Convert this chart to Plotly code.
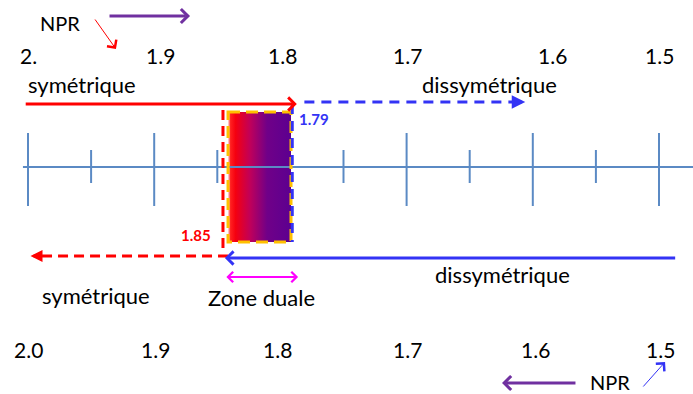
import plotly.graph_objects as go

# ---- data ----
major_ticks = [2.0, 1.9, 1.7, 1.6, 1.5]
minor_ticks = [1.95, 1.85, 1.75, 1.65, 1.55]
top_labels = ["2.", "1.9", "1.8", "1.7", "1.6", "1.5"]
top_label_pos = [2.0, 1.895, 1.798, 1.699, 1.584, 1.5]
bottom_labels = ["2.0", "1.9", "1.8", "1.7", "1.6", "1.5"]
bottom_label_pos = [2.0, 1.899, 1.802, 1.699, 1.598, 1.499]
sym_limit = 1.85          # red dashed limit
dis_limit = 1.79          # blue dashed limit
zone_duale = [1.8415, 1.7916]   # drawn box extent
sym_range = [2.003, 1.787]       # symétrique arrow (top)
dis_range_top = [1.781, 1.606]   # dissymétrique dashed arrow (top)
sym_range_bot = [1.8455, 1.998]  # symétrique dashed arrow (bottom)
dis_range_bot = [1.486, 1.844]   # dissymétrique arrow (bottom)

FONT = "Lato, 'Open Sans', sans-serif"
RED = "#ff0000"
BLUE = "#3333f5"
PURPLE = "#7030a0"
AXIS = "#5b8ac4"

fig = go.Figure()

# number line
fig.add_shape(type="line", x0=2.004, x1=1.47306, y0=167, y1=167,
              line=dict(color=AXIS, width=2))
for v in major_ticks:
    fig.add_shape(type="line", x0=v, x1=v, y0=133, y1=206, line=dict(color=AXIS, width=2))
for v in minor_ticks:
    fig.add_shape(type="line", x0=v, x1=v, y0=150, y1=183, line=dict(color=AXIS, width=2))

# gradient box (zone duale)
x0, x1 = zone_duale
fig.add_trace(go.Scatter(
    x=[x0, x1, x1, x0, x0], y=[112, 112, 242, 242, 112],
    mode="lines", fill="toself", line=dict(width=0),
    fillgradient=dict(type="horizontal",
                      colorscale=[[0, "#ffe0e0"], [0.04, "#ff2020"], [0.12, "#f50010"],
                                  [0.35, "#c0005a"], [0.62, "#700088"], [1, "#5c0090"]]),
    hoverinfo="skip", showlegend=False))
# orange dashed border
fig.add_shape(type="rect", x0=x0, x1=x1, y0=112, y1=242,
              line=dict(color="#ffc000", width=3, dash="12px,6px"))

# red dashed vertical + dashed arrow to the left
fig.add_shape(type="line", x0=sym_range_bot[0], x1=sym_range_bot[0], y0=110, y1=252,
              line=dict(color=RED, width=3, dash="10px,6px"))
fig.add_shape(type="line", x0=sym_range_bot[0] - 0.004, x1=sym_range_bot[1] - 0.004, y0=256, y1=256,
              line=dict(color=RED, width=3, dash="10px,6px"))
fig.add_annotation(x=sym_range_bot[1], y=256, ax=sym_range_bot[1] - 0.006, ay=256,
                   axref="x", ayref="y", xref="x", yref="y", text="", showarrow=True,
                   arrowhead=2, arrowsize=0.8, arrowwidth=3, arrowcolor=RED, standoff=0)

# blue dashed vertical + dashed arrow to the right
fig.add_shape(type="line", x0=zone_duale[1] - 0.001, x1=zone_duale[1] - 0.001, y0=104, y1=242,
              line=dict(color=BLUE, width=3, dash="10px,7px"))
fig.add_shape(type="line", x0=dis_range_top[0], x1=dis_range_top[1] + 0.004, y0=102, y1=102,
              line=dict(color=BLUE, width=3, dash="10px,7px"))
fig.add_annotation(x=dis_range_top[1], y=102, ax=dis_range_top[1] + 0.006, ay=102,
                   axref="x", ayref="y", xref="x", yref="y", text="", showarrow=True,
                   arrowhead=2, arrowsize=0.9, arrowwidth=3, arrowcolor=BLUE, standoff=0)

# solid arrows
def arrow(xh, yh, xt, yt, color, width, head=4, size=1.0, side="end"):
    fig.add_annotation(x=xh, y=yh, ax=xt, ay=yt, axref="x", ayref="y", xref="x", yref="y",
                       text="", showarrow=True, arrowhead=head, arrowsize=size,
                       arrowwidth=width, arrowcolor=color, standoff=0, startstandoff=0,
                       arrowside=side, startarrowhead=head, startarrowsize=size)

arrow(sym_range[1], 104, sym_range[0], 104, RED, 3, size=0.85)
arrow(dis_range_bot[1], 258, dis_range_bot[0], 258, BLUE, 3, size=0.85)
arrow(1.786, 277, 1.844, 277, "#ff00ff", 2, head=4, size=1.0, side="end+start")
arrow(1.8716, 16, 1.9366, 16, PURPLE, 3, size=0.9)
arrow(1.6244, 383, 1.565, 383, PURPLE, 3, size=0.9)
arrow(1.9303, 49, 1.9477, 18, RED, 1, size=2.2)
arrow(1.4952, 362, 1.5135, 388, BLUE, 1, size=2.2)

def text(x, y, s, size=22, color="black", bold=False):
    fig.add_annotation(x=x, y=y, xref="x", yref="y", text=f"<b>{s}</b>" if bold else s,
                       showarrow=False, font=dict(family=FONT, size=size, color=color))

for v, s in zip(top_label_pos, top_labels):
    text(v, 55, s, size=21)
for v, s in zip(bottom_label_pos, bottom_labels):
    text(v, 349, s, size=21)

text(1.957, 84, "symétrique")
text(1.6347, 84, "dissymétrique")
text(1.946, 295, "symétrique")
text(1.8146, 297, "Zone duale")
text(1.6244, 274, "dissymétrique")
text(1.9746, 23, "NPR", size=20)
text(1.5388, 382, "NPR", size=20)
text(dis_limit - 0.0166, 119, f"{dis_limit:.2f}", size=15, color=BLUE, bold=True)
text(sym_limit + 0.0169, 235, f"{sym_limit:.2f}", size=15, color=RED, bold=True)

fig.update_layout(
    width=693, height=394, margin=dict(l=0, r=0, t=0, b=0),
    plot_bgcolor="white", paper_bgcolor="white", showlegend=False,
    xaxis=dict(range=[2.0 + 28 / 1262, 2.0 - 665 / 1262], visible=False, fixedrange=True),
    yaxis=dict(range=[394, 0], visible=False, fixedrange=True),
)
fig.write_html("out.html", config={"displayModeBar": False},
               post_script="document.body.style.margin='0';document.body.style.overflow='hidden';")
